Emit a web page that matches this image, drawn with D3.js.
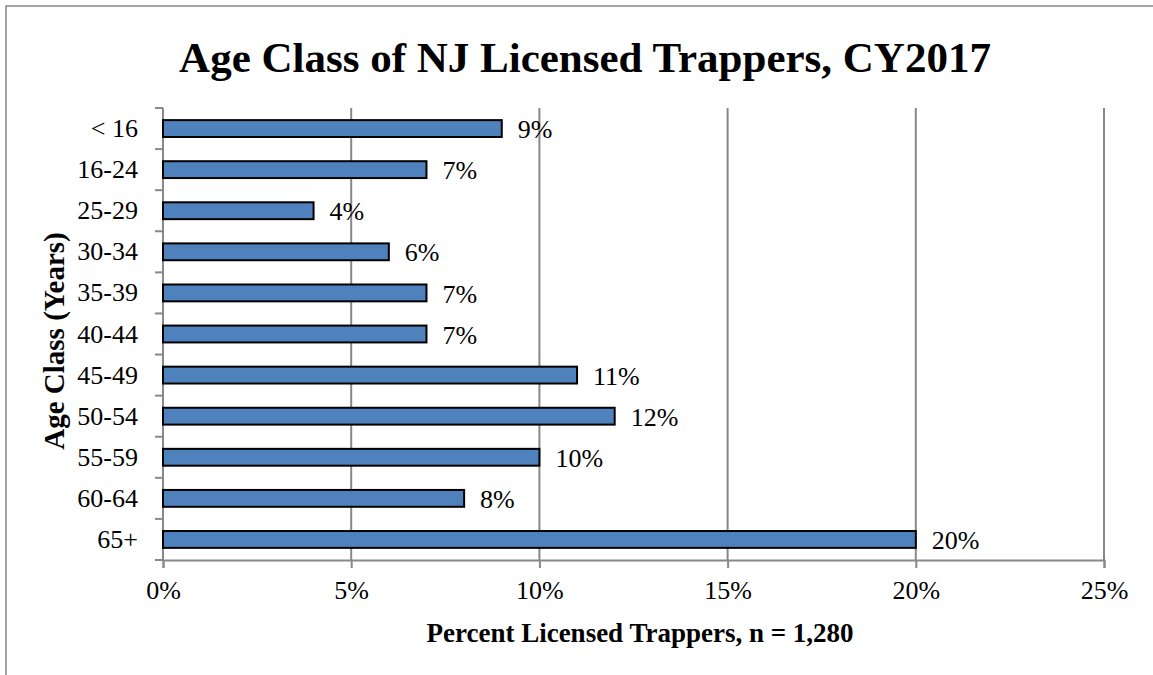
<!DOCTYPE html>
<html>
<head>
<meta charset="utf-8">
<script src="https://cdn.jsdelivr.net/npm/d3@7"></script>
<style>
  body { margin: 0; background: #fff; }
  svg text { font-family: "Liberation Serif", "Times New Roman", serif; fill: #000; }
</style>
</head>
<body>
<svg id="chart" width="1153" height="675"></svg>
<script>
// valeurs
const ageClasses = ["< 16", "16-24", "25-29", "30-34", "35-39", "40-44", "45-49", "50-54", "55-59", "60-64", "65+"];
const percents = [9, 7, 4, 6, 7, 7, 11, 12, 10, 8, 20];
const xTicks = [0, 5, 10, 15, 20, 25];

const svg = d3.select("#chart");
const margin = { top: 108, right: 49, bottom: 115, left: 163 };
const width = 1153 - margin.left - margin.right;
const height = 675 - margin.top - margin.bottom;

// cadre
svg.append("path")
  .attr("d", "M6,675 V6 H1153")
  .attr("fill", "none")
  .attr("stroke", "#888")
  .attr("stroke-width", 1.5);

svg.append("text")
  .attr("x", 585)
  .attr("y", 72)
  .attr("text-anchor", "middle")
  .style("font-size", "43px")
  .style("font-weight", "bold")
  .text("Age Class of NJ Licensed Trappers, CY2017");

const g = svg.append("g")
  .attr("transform", "translate(" + margin.left + "," + margin.top + ")");

const x = d3.scaleLinear().domain([0, 25]).range([0, width]);
const y = d3.scaleBand().domain(ageClasses).range([0, height]).paddingInner(0.59).paddingOuter(0.295);

// grille verticale
g.selectAll(".grid")
  .data(xTicks.slice(1))
  .join("line")
  .attr("class", "grid")
  .attr("x1", d => x(d)).attr("x2", d => x(d))
  .attr("y1", 0).attr("y2", height)
  .attr("stroke", "#888")
  .attr("stroke-width", 2);

// axe x
const xAxis = g.append("g")
  .attr("transform", "translate(0," + height + ")")
  .call(d3.axisBottom(x).tickValues(xTicks).tickFormat(d => d + "%").tickSize(8).tickPadding(13));
xAxis.select(".domain").attr("stroke", "#888").attr("stroke-width", 2);
xAxis.selectAll(".tick line").attr("stroke", "#888").attr("stroke-width", 2);
xAxis.selectAll("text").style("font-size", "26px").style("font-family", "Liberation Serif");

// axe y, ticks entre les catégories
const bandStep = y.step();
g.append("line")
  .attr("x1", 0).attr("x2", 0).attr("y1", 0).attr("y2", height)
  .attr("stroke", "#888").attr("stroke-width", 2);
g.selectAll(".ytick")
  .data(d3.range(ageClasses.length + 1))
  .join("line")
  .attr("class", "ytick")
  .attr("x1", -8).attr("x2", 0)
  .attr("y1", i => i * bandStep).attr("y2", i => i * bandStep)
  .attr("stroke", "#888").attr("stroke-width", 2);

g.selectAll(".ylabel")
  .data(ageClasses)
  .join("text")
  .attr("class", "ylabel")
  .attr("x", -25)
  .attr("y", d => y(d) + y.bandwidth() / 2)
  .attr("dy", "0.33em")
  .attr("text-anchor", "end")
  .style("font-size", "26px")
  .text(d => d);

// barres
g.selectAll(".bar")
  .data(percents)
  .join("rect")
  .attr("class", "bar")
  .attr("x", 0)
  .attr("y", (d, i) => y(ageClasses[i]))
  .attr("width", d => x(d))
  .attr("height", y.bandwidth())
  .attr("fill", "#4F81BD")
  .attr("stroke", "#000")
  .attr("stroke-width", 2);

// étiquettes de valeurs
g.selectAll(".val")
  .data(percents)
  .join("text")
  .attr("class", "val")
  .attr("x", d => x(d) + 16)
  .attr("y", (d, i) => y(ageClasses[i]) + y.bandwidth() / 2)
  .attr("dy", "0.37em")
  .style("font-size", "26px")
  .text(d => d + "%");

// titres des axes
svg.append("text")
  .attr("x", 640)
  .attr("y", 642)
  .attr("text-anchor", "middle")
  .style("font-size", "27px")
  .style("font-weight", "bold")
  .text("Percent Licensed Trappers, n = 1,280");

svg.append("text")
  .attr("transform", "translate(64,341) rotate(-90)")
  .attr("text-anchor", "middle")
  .style("font-size", "29px")
  .style("font-weight", "bold")
  .text("Age Class (Years)");
</script>
</body>
</html>
